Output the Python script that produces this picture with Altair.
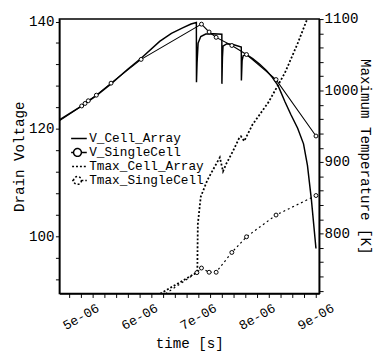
import altair as alt
import pandas as pd

US = 1e-6  # arrays below are in microseconds; plotted in seconds

SERIES = ["V_Cell_Array", "V_SingleCell", "Tmax_Cell_Array", "Tmax_SingleCell"]

# V_Cell_Array (drain voltage, dense simulation with switching spikes)
t_vcell = [4.63, 5.005, 5.255, 5.505, 5.788, 6.022, 6.338, 6.538, 6.738, 6.872,
           6.963, 6.965, 6.975, 6.993, 7.038, 7.122, 7.255, 7.397, 7.398, 7.407,
           7.417, 7.483, 7.588, 7.728, 7.730, 7.742, 7.760, 7.817, 7.922, 8.038,
           8.155, 8.255, 8.355, 8.472, 8.572, 8.688, 8.788, 8.855, 8.922, 9.0]
v_vcell = [121.67, 124.22, 126.14, 128.33, 131.06, 133.16, 136.30, 137.81, 138.85, 139.54,
           139.82, 128.69, 132.34, 135.99, 137.21, 137.68, 137.72, 137.63, 128.38, 133.25,
           135.39, 135.86, 135.71, 135.26, 129.00, 132.70, 133.62, 133.83, 133.07, 132.07,
           130.88, 129.60, 128.05, 125.04, 122.67, 120.12, 117.20, 113.19, 106.80, 97.68]

# V_SingleCell
t_vsingle = [4.63, 5.01, 5.067, 5.122, 5.26, 5.51, 6.022, 7.05, 7.18, 7.30, 7.567, 7.817, 8.32, 9.0]
v_single = [121.49, 124.26, 124.73, 125.23, 126.27, 128.51, 132.94, 139.51, 138.05, 137.05,
            135.53, 133.85, 129.18, 118.66]
m_vsingle = [0, 1, 1, 1, 1, 1, 1, 1, 1, 1, 1, 1, 1, 1]

# Tmax_Cell_Array
t_tcell = [6.29, 6.955, 6.98, 6.983, 6.988, 7.038, 7.15, 7.277, 7.363, 7.417,
           7.472, 7.588, 7.693, 7.722, 7.777, 7.917, 8.193, 8.472, 8.688, 8.86]
T_cell = [713.0, 745.0, 747.7, 779.1, 813.2, 851.5, 874.7, 893.8, 906.5, 887.0,
          897.5, 915.6, 933.8, 936.1, 929.3, 952.1, 983.9, 1024.9, 1065.9, 1102.0]

# Tmax_SingleCell
t_tsingle = [6.022, 6.972, 7.05, 7.18, 7.30, 7.567, 7.817, 8.32, 9.0]
T_single = [693.0, 745.4, 751.8, 745.9, 745.9, 773.6, 795.5, 825.9, 853.2]

# ticks and tick labels
x_ticks_us = [4.8, 5.0, 5.2, 5.4, 5.6, 5.8, 6.0, 6.2, 6.4, 6.6, 6.8, 7.0, 7.2, 7.4,
              7.6, 7.8, 8.0, 8.2, 8.4, 8.6, 8.8, 9.0]
x_label_us = [5, 6, 7, 8, 9]
x_label_txt = ["5e-06", "6e-06", "7e-06", "8e-06", "9e-06"]
yl_ticks = [92, 96, 100, 104, 108, 112, 116, 120, 124, 128, 132, 136, 140]
yr_ticks = [720, 740, 760, 780, 800, 820, 840, 860, 880, 900, 920, 940, 960, 980,
            1000, 1020, 1040, 1060, 1080, 1100]

FONT = "Liberation Mono"
PLOT_W, PLOT_H = 265.5, 280.5


def table(t, vals, field, marker=None):
    d = pd.DataFrame({"t": [a * US for a in t], field: vals})
    if marker is not None:
        d["m"] = marker
    return d


df_vcell = table(t_vcell, v_vcell, "v")
df_vsingle = table(t_vsingle, v_single, "v", m_vsingle)
df_tcell = table(t_tcell, T_cell, "T")
df_tsingle = table(t_tsingle, T_single, "T")
df_leg = pd.DataFrame({"series": SERIES, "t": [5e-6] * 4, "v": [120.0] * 4})
df_xlab = pd.DataFrame({"t": [a * US for a in x_label_us], "lab": x_label_txt})

xscale = alt.Scale(domain=[4.63e-6, 9.055e-6], nice=False, zero=False)
ylscale = alt.Scale(domain=[89.29, 140.46], nice=False, zero=False)
yrscale = alt.Scale(domain=[716.1, 1100], nice=False, zero=False)

xaxis = alt.Axis(
    values=[round(v, 1) * US for v in x_ticks_us],
    labels=False, tickSize=4, grid=False,
    title="time [s]", titleY=51, titleBaseline="middle",
)
ylaxis = alt.Axis(
    values=yl_ticks, format="d", orient="left",
    labelExpr="datum.value % 20 === 0 ? datum.label : ''",
    tickSize=4, labelPadding=1.5, grid=False,
    title="Drain Voltage", titleAngle=270, titleX=-41, titleY=PLOT_H / 2,
    titleBaseline="middle", titleAlign="center",
)
yraxis = alt.Axis(
    values=yr_ticks, format="d", orient="right",
    labelExpr="datum.value % 100 === 0 ? datum.label : ''",
    tickSize=4, labelPadding=1, grid=False,
    title="Maximum Temperature [K]", titleAngle=90, titleX=46, titleY=PLOT_H / 2,
    titleBaseline="middle", titleAlign="center",
)

X = alt.X("t:Q", scale=xscale, axis=xaxis, title="time [s]")
YL = alt.Y("v:Q", scale=ylscale, axis=ylaxis, title="Drain Voltage")
YR = alt.Y("T:Q", scale=yrscale, axis=yraxis, title="Maximum Temperature [K]")

vcell_line = alt.Chart(df_vcell).mark_line(color="black", strokeWidth=1.5, clip=True).encode(x=X, y=YL)
vsingle_line = alt.Chart(df_vsingle).mark_line(color="black", strokeWidth=1.1, clip=True).encode(x=X, y=YL)
vsingle_pts = alt.Chart(df_vsingle).transform_filter("datum.m == 1").mark_point(
    shape="circle", size=16, filled=True, fill="white", stroke="black", strokeWidth=1,
    opacity=1, clip=True).encode(x=X, y=YL)

# slanted (30 deg) x tick labels placed through the x scale, just below the axis
xlabels = alt.Chart(df_xlab).mark_text(
    angle=330, font=FONT, fontSize=13.5, color="black", align="center", baseline="middle"
).encode(x=X, y=alt.value(PLOT_H + 24), text="lab:N")

# legend symbols: nominal box 10 px (size 100), path drawn 19 px wide
LINE = "M-1.9,0L1.9,0"
LINE_CIRCLE = ("M-1.9,0L-0.8,0M0.8,0L1.9,0M0.8,0A0.8,0.8,0,1,1,-0.8,0"
               "A0.8,0.8,0,1,1,0.8,0")
leg = alt.Legend(orient="none", legendX=12, legendY=115, title=None,
                 labelFont=FONT, labelFontSize=13, labelColor="black", labelOffset=5.5,
                 symbolSize=100, symbolStrokeWidth=1.5, symbolStrokeColor="black",
                 symbolFillColor="transparent", rowPadding=0.3, clipHeight=14,
                 padding=0)

legend_layer = alt.Chart(df_leg).transform_filter("false").mark_point(
    filled=False, color="black", opacity=1).encode(
    x=X, y=YL,
    shape=alt.Shape("series:N", scale=alt.Scale(
        domain=SERIES, range=[LINE, LINE_CIRCLE, LINE, LINE_CIRCLE]), legend=leg),
    strokeDash=alt.StrokeDash("series:N", scale=alt.Scale(
        domain=SERIES, range=[[1, 0], [1, 0], [2, 2], [2, 2]]), legend=leg),
)

tcell_line = alt.Chart(df_tcell).mark_line(color="black", strokeWidth=1.8, strokeDash=[2, 2],
                                           clip=True).encode(x=X, y=YR)
tsingle_line = alt.Chart(df_tsingle).mark_line(color="black", strokeWidth=1.2, strokeDash=[2, 3],
                                               clip=True).encode(x=X, y=YR)
tsingle_pts = alt.Chart(df_tsingle).mark_point(
    shape="circle", size=16, filled=True, fill="white", stroke="black", strokeWidth=1,
    opacity=1, clip=True).encode(x=X, y=YR)

left = alt.layer(vcell_line, vsingle_line, vsingle_pts, legend_layer, xlabels)
right = alt.layer(tcell_line, tsingle_line, tsingle_pts)

chart = alt.layer(left, right).resolve_scale(y="independent").properties(
    width=PLOT_W, height=PLOT_H,
    padding={"left": 52.5, "top": 7.5, "right": 56, "bottom": 60},
    autosize=alt.AutoSizeParams(type="none"),
).configure_view(stroke="black", strokeWidth=1.5).configure_axis(
    labelFont=FONT, labelFontSize=14.5, labelColor="black",
    titleFont=FONT, titleFontSize=14.5, titleColor="black", titleFontWeight="normal",
    domainColor="black", domainWidth=1.5, tickColor="black", tickWidth=1,
)

chart.save("out.html", embed_options={"renderer": "svg", "actions": False})
